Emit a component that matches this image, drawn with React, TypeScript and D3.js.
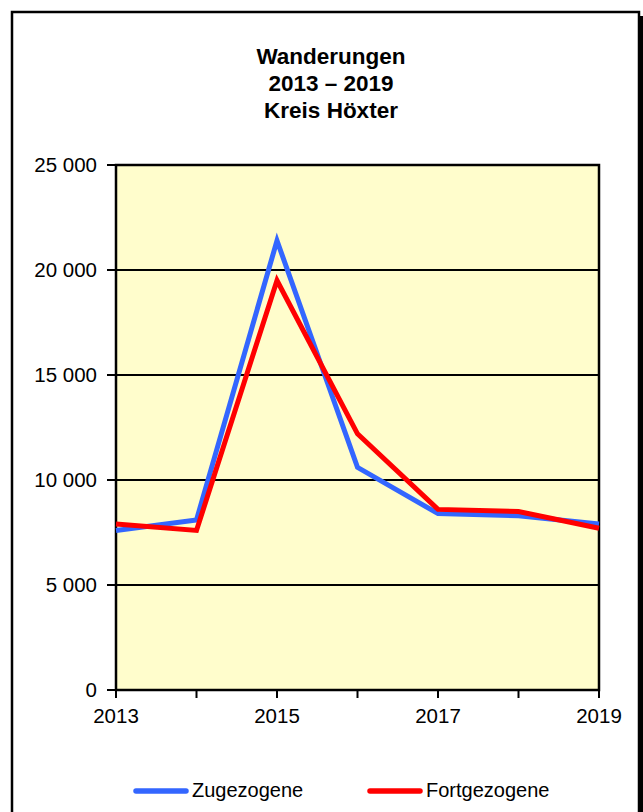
import React from "react";
import * as d3 from "d3";

const years = [2013, 2014, 2015, 2016, 2017, 2018, 2019];
const zugezogene = [7600, 8100, 21400, 10600, 8400, 8300, 7900];
const fortgezogene = [7900, 7600, 19500, 12200, 8600, 8500, 7700];
const yTicks = [0, 5000, 10000, 15000, 20000, 25000];
const xLabelYears = [2013, 2015, 2017, 2019];
const titleLines = ["Wanderungen", "2013 – 2019", "Kreis Höxter"];
const seriesNames = ["Zugezogene", "Fortgezogene"];
const seriesColors = ["#3366FF", "#FF0000"];

const W = 643;
const H = 812;
const plot = { left: 116, right: 599, top: 165, bottom: 690 };
const FONT = "'Liberation Sans', Arial, Helvetica, sans-serif";

export default function App() {
  const x = d3
    .scaleLinear()
    .domain([years[0], years[years.length - 1]])
    .range([plot.left, plot.right]);
  const y = d3.scaleLinear().domain([0, 25000]).range([plot.bottom, plot.top]);
  const line = d3
    .line<number>()
    .x((_, i) => x(years[i]))
    .y((d) => y(d));
  const fmt = (v: number) => d3.format(",")(v).replace(/,/g, " ");
  const series = [zugezogene, fortgezogene];

  return (
    <svg
      width={W}
      height={H}
      style={{ position: "absolute", left: 0, top: 0, background: "#fff" }}
      fontFamily={FONT}
    >
      {/* frame with shadow */}
      <rect x={16} y={16} width={627} height={820} fill="#000" />
      <rect x={12} y={12} width={627} height={820} fill="#fff" stroke="#000" strokeWidth={2.5} />

      {/* title */}
      {titleLines.map((t, i) => (
        <text
          key={t}
          x={331}
          y={64 + i * 27}
          textAnchor="middle"
          fontWeight="bold"
          fontSize={22.5}
          fill="#000"
        >
          {t}
        </text>
      ))}

      {/* plot background */}
      <rect
        x={plot.left}
        y={plot.top}
        width={plot.right - plot.left}
        height={plot.bottom - plot.top}
        fill="#FFFDCC"
      />

      {/* gridlines and y ticks */}
      {yTicks.map((t) => (
        <g key={t}>
          <line x1={plot.left - 9} x2={plot.right} y1={y(t)} y2={y(t)} stroke="#000" strokeWidth={2.2} />
          <text x={97} y={y(t) + 7} textAnchor="end" fontSize={20.5} fill="#000">
            {fmt(t)}
          </text>
        </g>
      ))}

      {/* x ticks */}
      {years.map((yr) => (
        <line key={yr} x1={x(yr)} x2={x(yr)} y1={plot.bottom} y2={plot.bottom + 8} stroke="#000" strokeWidth={2} />
      ))}
      {xLabelYears.map((yr) => (
        <text key={yr} x={x(yr)} y={723} textAnchor="middle" fontSize={20.5} fill="#000">
          {yr}
        </text>
      ))}

      {/* plot border */}
      <rect
        x={plot.left}
        y={plot.top}
        width={plot.right - plot.left}
        height={plot.bottom - plot.top}
        fill="none"
        stroke="#000"
        strokeWidth={2.5}
      />

      {/* series */}
      {series.map((s, i) => (
        <path key={i} d={line(s) || ""} fill="none" stroke={seriesColors[i]} strokeWidth={5} strokeLinejoin="miter" />
      ))}

      {/* legend */}
      {seriesNames.map((n, i) => {
        const lx = i === 0 ? 136 : 370;
        return (
          <g key={n}>
            <line x1={lx} x2={lx + 50} y1={791} y2={791} stroke={seriesColors[i]} strokeWidth={5.5} strokeLinecap="round" />
            <text x={lx + 56} y={797} fontSize={20} fill="#000">
              {n}
            </text>
          </g>
        );
      })}
    </svg>
  );
}
